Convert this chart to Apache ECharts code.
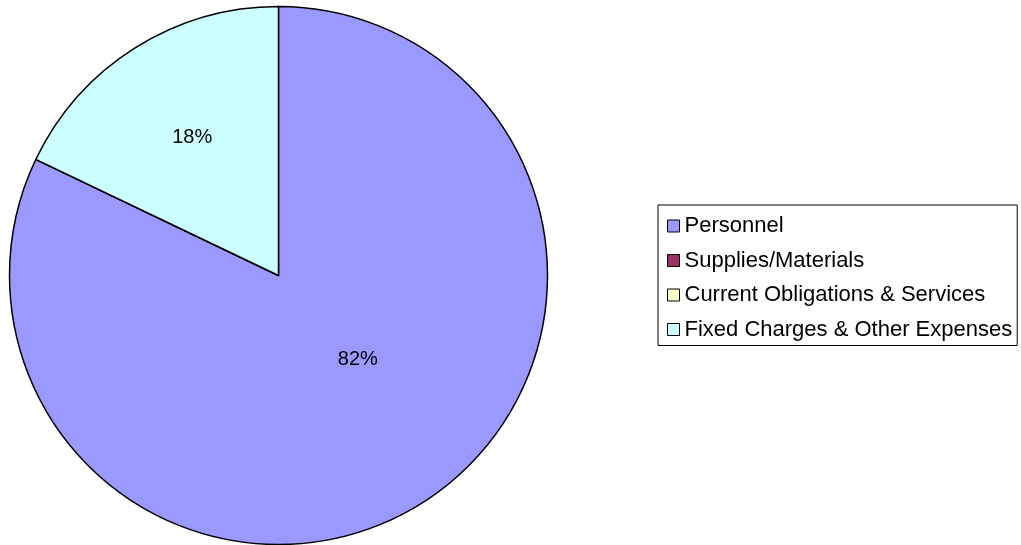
<!DOCTYPE html>
<html>
<head>
<meta charset="utf-8">
<script src="https://cdn.jsdelivr.net/npm/echarts@6/dist/echarts.min.js"></script>
<style>
html,body{margin:0;padding:0;background:#fff;}
#chart{width:1021px;height:545px;}
</style>
</head>
<body>
<div id="chart"></div>
<script>
const categories = ['Personnel', 'Supplies/Materials', 'Current Obligations & Services', 'Fixed Charges & Other Expenses'];
const values = [82.1, 0, 0, 17.9];
const colors = ['#9999FF', '#993366', '#FFFFCC', '#CCFFFF'];

const labelOffsets = {
  'Personnel': [6, -32],
  'Fixed Charges & Other Expenses': [-13, -22]
};

const chart = echarts.init(document.getElementById('chart'), null, {renderer: 'canvas'});
const data = categories.map((c, i) => ({
  name: c,
  value: values[i],
  itemStyle: {color: colors[i]},
  label: values[i] > 0 ? {show: true, offset: labelOffsets[c] || [0, 0]} : {show: false}
}));

chart.setOption({
  animation: false,
  backgroundColor: '#ffffff',
  textStyle: {fontFamily: 'Liberation Sans, Arial, sans-serif'},
  legend: {
    orient: 'vertical',
    left: 658,
    top: 205,
    padding: [10, 5, 5, 9],
    itemGap: 12.5,
    itemWidth: 12,
    itemHeight: 12,
    icon: 'rect',
    borderColor: '#000',
    borderWidth: 1,
    borderRadius: 0,
    itemStyle: {borderColor: '#000', borderWidth: 1},
    textStyle: {fontSize: 22, lineHeight: 22, color: '#000', fontFamily: 'Liberation Sans, Arial, sans-serif'},
    selectedMode: false,
    data: categories
  },
  series: [{
    type: 'pie',
    center: [278.5, 275.5],
    radius: [0, 269],
    startAngle: 90,
    clockwise: true,
    avoidLabelOverlap: false,
    emphasis: {disabled: true},
    itemStyle: {borderColor: '#000', borderWidth: 1.5},
    label: {
      position: 'inside',
      color: '#000',
      fontSize: 20,
      fontFamily: 'Liberation Sans, Arial, sans-serif',
      formatter: p => Math.round(p.percent) + '%'
    },
    labelLine: {show: false},
    data: data
  }]
});
</script>
</body>
</html>
